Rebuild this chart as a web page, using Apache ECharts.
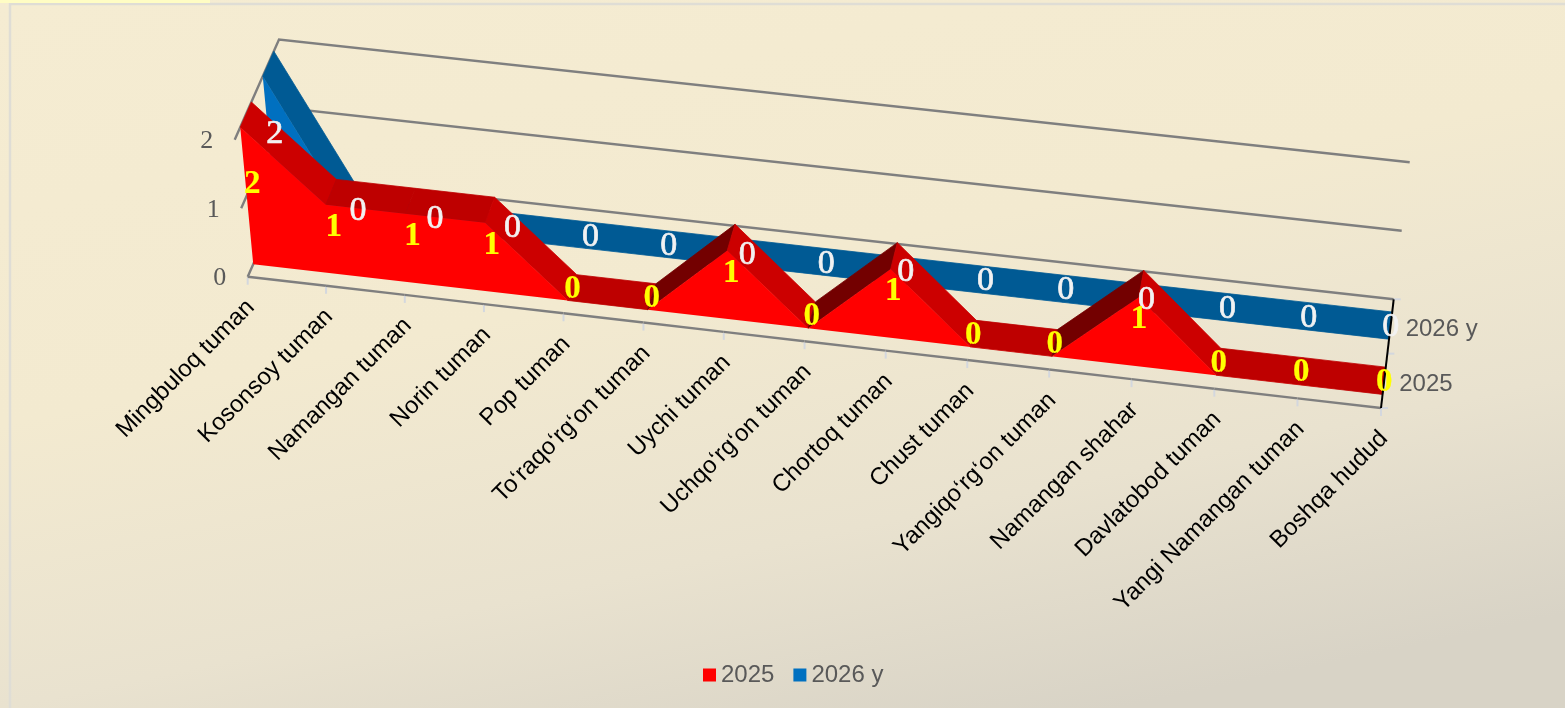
<!DOCTYPE html>
<html><head><meta charset="utf-8">
<style>html,body{margin:0;padding:0;overflow:hidden}#c{width:1565px;height:708px}</style>
<script src="https://cdn.jsdelivr.net/npm/echarts@6/dist/echarts.min.js"></script>
</head><body><div id="c"></div>
<script>
const categories = ["Mingbuloq tuman","Kosonsoy tuman","Namangan tuman","Norin tuman","Pop tuman","To‘raqo‘rg‘on tuman","Uychi tuman","Uchqo‘rg‘on tuman","Chortoq tuman","Chust tuman","Yangiqo‘rg‘on tuman","Namangan shahar","Davlatobod tuman","Yangi Namangan tuman","Boshqa hudud"];
const values2025 = [2,1,1,1,0,0,1,0,1,0,0,1,0,0,0];
const values2026 = [2,0,0,0,0,0,0,0,0,0,0,0,0,0,0];
const valueTicks = [0,1,2];
const seriesNames = ["2025","2026 y"];

// layout of the helper cartesian plane and its 3D projection
const G = {left:100, top:60, width:1000, height:400};
const FLOOR = {fl:[247.7,276.7], fr:[1381,408], br:[1393.7,299.3], bl:[292,176.5]};
const LIFT = {dxL:-13, dxR:16, dy:-137};
const WARP = 0.0346;
// grid pixel + depth (0 front .. 1 back) -> picture pixel
function project(pt, depth){
  const raw=(pt[0]-G.left)/G.width, v=(G.top+G.height-pt[1])/G.height;
  const u=raw*(1-WARP)+WARP*raw*raw;
  const fx=FLOOR.fl[0]+(FLOOR.fr[0]-FLOOR.fl[0])*u, fy=FLOOR.fl[1]+(FLOOR.fr[1]-FLOOR.fl[1])*u;
  const bx=FLOOR.bl[0]+(FLOOR.br[0]-FLOOR.bl[0])*u, by=FLOOR.bl[1]+(FLOOR.br[1]-FLOOR.bl[1])*u;
  const x=fx+(bx-fx)*depth, y=fy+(by-fy)*depth;
  return [x+(LIFT.dxL+(LIFT.dxR-LIFT.dxL)*u)*v, y+LIFT.dy*v];
}
const BANDS = {"2025":[0.125,0.376], "2026 y":[0.633,0.883]};
const SKIN = {
  "2025":{front:"#FF0000",flat:"#BE0000",down:"#CC0000",up:"#730000",label:"#FFFF00",edge:0.2},
  "2026 y":{front:"#0070C0",flat:"#005A94",down:"#005A94",up:"#004A7A",label:"#F2F2F2",edge:0.7}
};

function areaRender(name){
  return function(params,api){
    const i=api.value(0), v=api.value(1), vals=name==="2025"?values2025:values2026;
    const [d0,d1]=BANDS[name], s=SKIN[name], ch=[];
    if(i<vals.length-1){
      const n=vals[i+1];
      const a=api.coord([i,v]), b=api.coord([i+1,n]);
      const col=n>v?s.up:(n<v?s.down:s.flat);
      ch.push({type:'polygon',z2:1,shape:{points:[project(a,d0),project(b,d0),project(b,d1),project(a,d1)]},style:{fill:col,stroke:col,lineWidth:0.8}});
    }
    if(i===0){
      const top=vals.map((val,k)=>project(api.coord([k,val]),d0));
      const pts=[project(api.coord([0,0]),d0)].concat(top,[project(api.coord([vals.length-1,0]),d0)]);
      ch.push({type:'polygon',z2:50,shape:{points:pts},style:{fill:s.front}});
    }
    return {type:'group',children:ch};
  };
}
function labelRender(name,font){
  return function(params,api){
    const i=api.value(0), v=api.value(1), [d0,d1]=BANDS[name], s=SKIN[name];
    const p=project(api.coord([i,v/2]),(d0+d1)/2);
    return {type:'text',x:p[0],y:p[1]+1.5,style:{text:String(v),fill:s.label,stroke:s.label,lineWidth:s.edge,align:'center',verticalAlign:'middle',font:font}};
  };
}
function wallRender(params,api){
  const v=api.value(0);
  const c=api.coord([0,v]);
  const l0=project(c,0), l1=project(c,1), r1=project(api.coord([categories.length-1,v]),1);
  return {type:'group',children:[
    {type:'polyline',shape:{points:[l0,l1,r1]},style:{fill:'none',stroke:'#7F7F7F',lineWidth:2.4}},
    {type:'text',x:l0[0]-28,y:l0[1]+1.5,style:{text:String(v),fill:'#595959',align:'center',verticalAlign:'middle',font:'26px "Liberation Serif"'}}
  ]};
}
function categoryRender(params,api){
  const i=api.value(0), last=categories.length-1;
  const p=project(api.coord([i,0]),0);
  const ch=[
    {type:'line',shape:{x1:p[0],y1:p[1]+1,x2:p[0],y2:p[1]+8},style:{stroke:'#D3D7DE',lineWidth:2}},
    {type:'text',x:p[0]+3,y:p[1]+27,rotation:Math.PI/4,style:{text:categories[i],fill:'#000000',align:'right',verticalAlign:'middle',font:'24px "Liberation Sans"'}}
  ];
  if(i<last){
    const q=project(api.coord([i+1,0]),0);
    ch.push({type:'line',shape:{x1:p[0],y1:p[1],x2:q[0],y2:q[1]},style:{stroke:'#7F7F7F',lineWidth:2.4}});
  }
  return {type:'group',children:ch};
}
function depthRender(params,api){
  // right-hand depth axis, with the series names on it
  const end=api.coord([categories.length-1,0]);
  const a=project(end,0), b=project(end,1);
  const ch=[{type:'line',z2:5,shape:{x1:a[0],y1:a[1],x2:b[0],y2:b[1]},style:{stroke:'#000000',lineWidth:2}}];
  [0,0.5,1].forEach(function(d){const p=project(end,d);ch.push({type:'line',shape:{x1:p[0],y1:p[1],x2:p[0]+7,y2:p[1]},style:{stroke:'#D3D7DE',lineWidth:2}});});
  seriesNames.forEach(function(nm){
    const [d0,d1]=BANDS[nm]; const p=project(end,(d0+d1)/2);
    ch.push({type:'text',x:p[0]+15,y:p[1]+3.5,style:{text:nm,fill:'#595959',align:'left',verticalAlign:'middle',font:'24px "Liberation Sans"'}});
  });
  return {type:'group',children:ch};
}
const pairs=a=>a.map((v,i)=>[i,v]);
const chart=echarts.init(document.getElementById('c'),null,{renderer:'canvas'});
chart.setOption({
  animation:false,
  backgroundColor:{type:'linear',x:0,y:0,x2:0.122,y2:1.277,colorStops:[
    {offset:0,color:'#F5ECD2'},{offset:0.45,color:'#F3EAD0'},{offset:0.75,color:'#E9E2CF'},{offset:1,color:'#D8D3C6'}]},
  graphic:[
    {type:'rect',silent:true,z:0,shape:{x:10,y:4,width:1600,height:760},style:{fill:'none',stroke:'#DFDDD5',lineWidth:2.5}},
    {type:'rect',silent:true,z:0,shape:{x:0,y:0,width:210,height:3},style:{fill:'#FFFDC4'}}
  ],
  grid:{left:G.left,top:G.top,width:G.width,height:G.height},
  xAxis:{type:'category',data:categories,boundaryGap:false,show:false},
  yAxis:{type:'value',min:0,max:2,interval:1,show:false},
  legend:{data:seriesNames,left:703,top:663,padding:0,icon:'rect',itemWidth:13,itemHeight:13,itemGap:19,
    textStyle:{fontFamily:'Liberation Sans',fontSize:24,color:'#595959'}},
  series:[
    {type:'custom',name:'walls',z:1,silent:true,data:valueTicks.map(v=>[v]),renderItem:wallRender,encode:{y:0},clip:false},
    {type:'custom',name:'categories',z:1,silent:true,data:categories.map((c,i)=>[i]),renderItem:categoryRender,encode:{x:0},clip:false},
    {type:'custom',name:'2026 y',z:2,silent:true,itemStyle:{color:'#0070C0'},data:pairs(values2026),renderItem:areaRender('2026 y'),encode:{x:0,y:1},clip:false},
    {type:'custom',name:'2025',z:3,silent:true,itemStyle:{color:'#FF0000'},data:pairs(values2025),renderItem:areaRender('2025'),encode:{x:0,y:1},clip:false},
    {type:'custom',name:'depth',z:4,silent:true,data:[[0]],renderItem:depthRender,clip:false},
    {type:'custom',name:'labels 2026',z:5,silent:true,data:pairs(values2026),renderItem:labelRender('2026 y','34px "Liberation Serif"'),encode:{x:0,y:1},clip:false},
    {type:'custom',name:'labels 2025',z:6,silent:true,data:pairs(values2025),renderItem:labelRender('2025','bold 33px "Liberation Serif"'),encode:{x:0,y:1},clip:false}
  ]
});
</script></body></html>
